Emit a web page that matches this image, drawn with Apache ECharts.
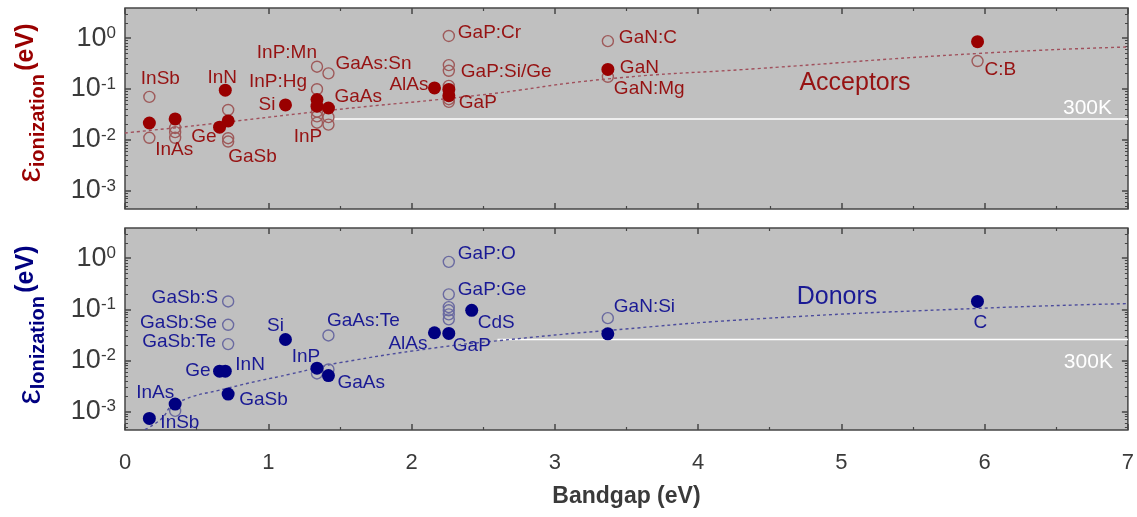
<!DOCTYPE html>
<html>
<head>
<meta charset="utf-8">
<script src="https://cdn.jsdelivr.net/npm/echarts@6/dist/echarts.min.js"></script>
<style>
  html, body { margin: 0; padding: 0; background: #ffffff; }
  #chart { width: 1137px; height: 517px; }
</style>
</head>
<body>
<div id="chart"></div>
<script>
// Ionization energy of shallow acceptors and donors versus host bandgap (eV).

// Log axis span and labelled decades
const yMin = 4.4e-4;
const yMax = 3.9;
const decadeTicks = [1e-3, 1e-2, 1e-1, 1];

// Thermal energy at room temperature, eV
const roomTempEnergy = 0.0259;
const acceptorThermalFrom = 1.45;
const donorThermalFrom = 2.6;

// [bandgap, ionization energy, label]
const acceptorFilled = [
  [0.17, 0.0215, ''],
  [0.35, 0.0258, ''],
  [0.66, 0.0178, 'Ge'],
  [0.72, 0.0236, ''],
  [0.70, 0.095, 'InN'],
  [1.12, 0.0486, 'Si'],
  [1.34, 0.062, ''],
  [1.34, 0.046, ''],
  [1.42, 0.0424, 'GaAs'],
  [2.16, 0.105, 'AlAs'],
  [2.26, 0.098, ''],
  [2.26, 0.074, ''],
  [3.37, 0.243, 'GaN'],
  [5.95, 0.85, '']
];

const acceptorOpen = [
  [0.17, 0.070, 'InSb'],
  [0.17, 0.011, ''],
  [0.35, 0.0172, ''],
  [0.35, 0.0142, ''],
  [0.35, 0.011, 'InAs'],
  [0.72, 0.0388, ''],
  [0.72, 0.0108, ''],
  [0.72, 0.0093, 'GaSb'],
  [1.34, 0.274, 'InP:Mn'],
  [1.34, 0.099, 'InP:Hg'],
  [1.34, 0.036, ''],
  [1.34, 0.029, ''],
  [1.34, 0.0218, 'InP'],
  [1.42, 0.203, 'GaAs:Sn'],
  [1.42, 0.028, ''],
  [1.42, 0.020, ''],
  [2.26, 1.1, 'GaP:Cr'],
  [2.26, 0.295, ''],
  [2.26, 0.228, 'GaP:Si/Ge'],
  [2.26, 0.115, ''],
  [2.26, 0.063, ''],
  [2.26, 0.056, 'GaP'],
  [3.37, 0.87, 'GaN:C'],
  [3.37, 0.174, 'GaN:Mg'],
  [5.95, 0.354, 'C:B']
];

const acceptorTrend = [
  [0, 0.0137], [0.34, 0.0172], [0.66, 0.0216], [1.45, 0.0387], [2.48, 0.0762],
  [3.37, 0.158], [4.4, 0.25], [5.96, 0.50], [7, 0.67]
];

const donorFilled = [
  [0.17, 7.4e-4, 'InSb'],
  [0.35, 1.41e-3, 'InAs'],
  [0.66, 0.0062, 'Ge'],
  [0.70, 0.0062, 'InN'],
  [0.72, 2.22e-3, 'GaSb'],
  [1.12, 0.0258, 'Si'],
  [1.34, 0.0071, 'InP'],
  [1.42, 0.0051, 'GaAs'],
  [2.16, 0.035, 'AlAs'],
  [2.26, 0.034, 'GaP'],
  [2.42, 0.096, 'CdS'],
  [3.37, 0.0334, ''],
  [5.95, 0.143, 'C']
];

const donorOpen = [
  [0.35, 1.04e-3, ''],
  [0.72, 0.143, 'GaSb:S'],
  [0.72, 0.050, 'GaSb:Se'],
  [0.72, 0.021, 'GaSb:Te'],
  [1.34, 0.0056, ''],
  [1.42, 0.0067, ''],
  [1.42, 0.031, 'GaAs:Te'],
  [2.26, 0.85, 'GaP:O'],
  [2.26, 0.197, 'GaP:Ge'],
  [2.26, 0.111, ''],
  [2.26, 0.096, ''],
  [2.26, 0.080, ''],
  [2.26, 0.064, ''],
  [3.37, 0.0675, 'GaN:Si']
];

const donorTrend = [
  [0.14, 4.5e-4], [0.25, 7.1e-4], [0.35, 1.44e-3], [0.72, 2.9e-3], [1.16, 5.5e-3],
  [1.34, 7.2e-3], [1.5, 9.1e-3], [2.13, 0.0172], [2.62, 0.0247], [3.38, 0.039],
  [4.44, 0.066], [5.96, 0.105], [7, 0.13]
];

// Label placement: [dx, dy, align] relative to the marker centre
const acceptorLabelPos = {
  'InSb': [11, -18, 'center'], 'InAs': [-1, 12, 'center'], 'Ge': [-3, 10, 'right'],
  'GaSb': [0, 15, 'left'], 'InN': [-3, -12, 'center'], 'Si': [-10, 0, 'right'],
  'InP:Mn': [0, -14, 'right'], 'InP:Hg': [-10, -7, 'right'], 'GaAs:Sn': [7, -10, 'left'],
  'GaAs': [6, -11, 'left'], 'InP': [-9, 14, 'center'], 'AlAs': [-6, -3, 'right'],
  'GaP:Cr': [9, -3, 'left'], 'GaP:Si/Ge': [12, 1, 'left'], 'GaP': [10, 1, 'left'],
  'GaN:C': [11, -3, 'left'], 'GaN': [12, -2, 'left'], 'GaN:Mg': [6, 12, 'left'],
  'C:B': [7, 9, 'left']
};
const donorLabelPos = {
  'GaSb:S': [-10, -4, 'right'], 'GaSb:Se': [-11, -2, 'right'], 'GaSb:Te': [-12, -2, 'right'],
  'Si': [-10, -14, 'center'], 'GaAs:Te': [35, -15, 'center'], 'InP': [-11, -11, 'center'],
  'GaAs': [9, 7, 'left'], 'Ge': [-9, 0, 'right'], 'InN': [10, -6, 'left'],
  'GaSb': [11, 6, 'left'], 'InAs': [-20, -11, 'center'], 'InSb': [11, 4, 'left'],
  'AlAs': [-7, 11, 'right'], 'GaP': [4, 12, 'left'], 'GaP:O': [9, -8, 'left'],
  'GaP:Ge': [9, -5, 'left'], 'CdS': [6, 12, 'left'], 'GaN:Si': [6, -11, 'left'],
  'C': [3, 21, 'center']
};

const FONT = '"Liberation Sans", Arial, Helvetica, sans-serif';
const RED = '#961212';
const RED_DOT = '#990000';
const RED_RING = '#9e5a5a';
const BLUE = '#1a1a94';
const BLUE_DOT = '#000080';
const BLUE_RING = '#6a6aa0';
const FRAME = '#454545';
const TICK_TEXT = '#3a3a3a';

const minorTickValues = [];
for (let d = -4; d <= 0; d++) {
  for (let k = 2; k <= 9; k++) {
    const v = +(k * Math.pow(10, d)).toPrecision(3);
    if (v >= yMin && v <= yMax) minorTickValues.push(v);
  }
}

function pointItems(rows, layout, color) {
  return rows.map(function (r) {
    const item = { value: [r[0], r[1]] };
    if (r[2]) {
      const p = layout[r[2]];
      item.label = {
        show: true, formatter: r[2], position: 'inside',
        offset: [p[0], p[1]], align: p[2], verticalAlign: 'middle',
        color: color, fontSize: 19, fontFamily: FONT
      };
    }
    return item;
  });
}

function xAxes(gridIndex, showLabels) {
  const base = {
    type: 'value', gridIndex: gridIndex, min: 0, max: 7, interval: 1,
    axisLine: { show: false },
    axisTick: { show: true, inside: true, length: 6, lineStyle: { color: FRAME, width: 1.5 } },
    minorTick: { show: true, splitNumber: 2, length: 3, lineStyle: { color: FRAME, width: 1.2 } },
    splitLine: { show: false }, minorSplitLine: { show: false }
  };
  const bottom = Object.assign({}, base, {
    position: 'bottom',
    axisLabel: showLabels
      ? { show: true, margin: 22, fontSize: 22, color: TICK_TEXT, fontFamily: FONT }
      : { show: false }
  });
  if (showLabels) {
    Object.assign(bottom, {
      name: 'Bandgap (eV)', nameLocation: 'middle', nameGap: 55,
      nameTextStyle: { fontSize: 23, fontWeight: 'bold', color: TICK_TEXT, fontFamily: FONT }
    });
  }
  const top = Object.assign({}, base, { position: 'top', axisLabel: { show: false } });
  return [bottom, top];
}

function yAxes(gridIndex) {
  const base = {
    type: 'log', logBase: 10, gridIndex: gridIndex, min: yMin, max: yMax,
    axisLine: { show: false }, splitLine: { show: false }
  };
  const majorTick = { show: true, inside: true, length: 6, customValues: decadeTicks, lineStyle: { color: FRAME, width: 1.5 } };
  const minorTick = { show: true, inside: true, length: 3, customValues: minorTickValues, lineStyle: { color: FRAME, width: 1 } };
  return [
    Object.assign({}, base, {
      position: 'left', axisTick: majorTick,
      axisLabel: {
        show: true, customValues: decadeTicks, margin: 9,
        formatter: function (v) { return '{b|10}{s|' + Math.round(Math.log10(v)) + '}'; },
        rich: {
          b: { fontSize: 27, color: TICK_TEXT, fontFamily: FONT, verticalAlign: 'bottom' },
          s: { fontSize: 17, color: TICK_TEXT, fontFamily: FONT, verticalAlign: 'top' }
        }
      }
    }),
    Object.assign({}, base, { position: 'left', axisTick: minorTick, axisLabel: { show: false } }),
    Object.assign({}, base, { position: 'right', axisTick: majorTick, axisLabel: { show: false } }),
    Object.assign({}, base, { position: 'right', axisTick: minorTick, axisLabel: { show: false } })
  ];
}

function panelSeries(xIdx, yIdx, trend, thermalFrom, open, filled, layout, colors) {
  return [
    {
      type: 'line', xAxisIndex: xIdx, yAxisIndex: yIdx, data: trend, smooth: true,
      showSymbol: false, symbol: 'none', silent: true,
      lineStyle: { color: colors.trend, width: 1.4, type: [3, 3] }, z: 2
    },
    {
      type: 'line', xAxisIndex: xIdx, yAxisIndex: yIdx,
      data: [[thermalFrom, roomTempEnergy], [7, roomTempEnergy]],
      showSymbol: false, symbol: 'none', silent: true,
      lineStyle: { color: '#ffffff', width: 1.5 }, z: 1
    },
    {
      type: 'scatter', xAxisIndex: xIdx, yAxisIndex: yIdx, symbol: 'circle', symbolSize: 11,
      data: pointItems(open, layout, colors.text),
      itemStyle: { color: 'rgba(0,0,0,0)', borderColor: colors.ring, borderWidth: 1.4, opacity: 1 },
      label: { show: false }, z: 3
    },
    {
      type: 'scatter', xAxisIndex: xIdx, yAxisIndex: yIdx, symbol: 'circle', symbolSize: 13,
      data: pointItems(filled, layout, colors.text),
      itemStyle: { color: colors.dot, opacity: 1 }, label: { show: false }, z: 4
    }
  ];
}

const chart = echarts.init(document.getElementById('chart'), null, { renderer: 'canvas' });

const option = {
  animation: false,
  backgroundColor: '#ffffff',
  textStyle: { fontFamily: FONT },
  grid: [
    { left: 125, right: 9, top: 8, height: 201, show: true, backgroundColor: '#c0c0c0', borderColor: FRAME, borderWidth: 1.5 },
    { left: 125, right: 9, top: 228, height: 202, show: true, backgroundColor: '#c0c0c0', borderColor: FRAME, borderWidth: 1.5 }
  ],
  xAxis: xAxes(0, false).concat(xAxes(1, true)),
  yAxis: yAxes(0).concat(yAxes(1)),
  series: panelSeries(0, 0, acceptorTrend, acceptorThermalFrom, acceptorOpen, acceptorFilled, acceptorLabelPos,
      { trend: '#a0505c', ring: RED_RING, dot: RED_DOT, text: RED })
    .concat(panelSeries(2, 4, donorTrend, donorThermalFrom, donorOpen, donorFilled, donorLabelPos,
      { trend: '#4c4c9c', ring: BLUE_RING, dot: BLUE_DOT, text: BLUE }))
};
chart.setOption(option);

// Annotations: axis titles, panel names and the 300 K marker text
function axisTitle(x, y, sub, color) {
  return {
    type: 'text', x: x, y: y, rotation: Math.PI / 2, silent: true,
    style: {
      text: '{e|ε}{s|' + sub + '} {u|(eV)}',
      align: 'center', verticalAlign: 'middle', fill: color,
      rich: {
        e: { fontSize: 34, fontFamily: FONT, fill: color, verticalAlign: 'top' },
        s: { fontSize: 20, fontWeight: 'bold', fontFamily: FONT, fill: color, verticalAlign: 'bottom' },
        u: { fontSize: 25, fontWeight: 'bold', fontFamily: FONT, fill: color, verticalAlign: 'top' }
      }
    }
  };
}

const topEnd = chart.convertToPixel({ xAxisIndex: 0, yAxisIndex: 0 }, [7, roomTempEnergy]);
const botEnd = chart.convertToPixel({ xAxisIndex: 2, yAxisIndex: 4 }, [7, roomTempEnergy]);

chart.setOption({
  graphic: [
    axisTitle(31, 103, 'ionization', RED_DOT),
    axisTitle(31, 325, 'Ionization', BLUE_DOT),
    { type: 'text', x: 855, y: 83, silent: true,
      style: { text: 'Acceptors', fontSize: 25, fontFamily: FONT, fill: RED, align: 'center', verticalAlign: 'middle' } },
    { type: 'text', x: 837, y: 297, silent: true,
      style: { text: 'Donors', fontSize: 25, fontFamily: FONT, fill: BLUE, align: 'center', verticalAlign: 'middle' } },
    { type: 'text', x: topEnd[0] - 16, y: topEnd[1] - 11, silent: true,
      style: { text: '300K', fontSize: 21, fontFamily: FONT, fill: '#ffffff', align: 'right', verticalAlign: 'middle' } },
    { type: 'text', x: botEnd[0] - 15, y: botEnd[1] + 23, silent: true,
      style: { text: '300K', fontSize: 21, fontFamily: FONT, fill: '#ffffff', align: 'right', verticalAlign: 'middle' } }
  ]
});
</script>
</body>
</html>
